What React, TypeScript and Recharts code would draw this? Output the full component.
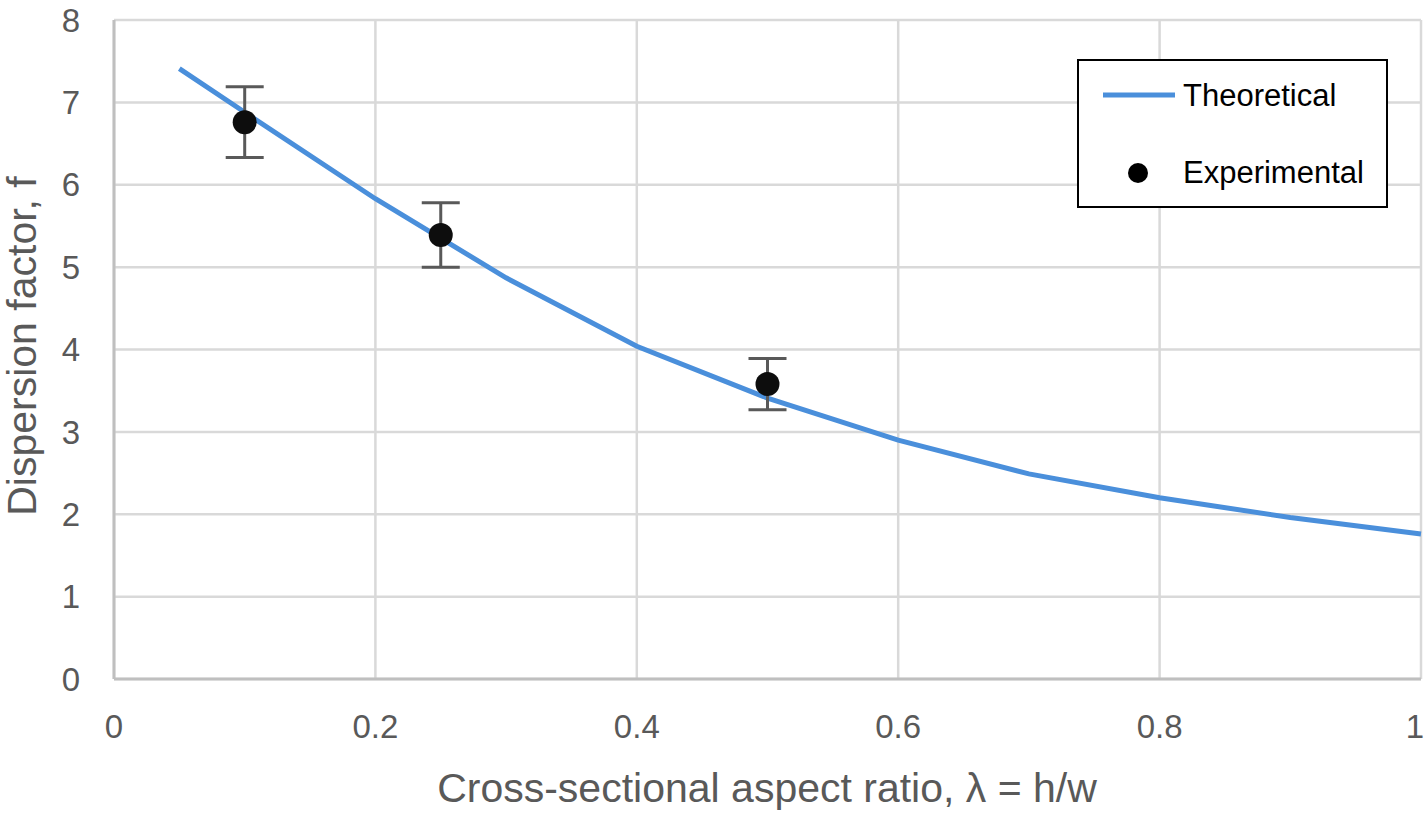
import {
  CartesianGrid,
  ComposedChart,
  ErrorBar,
  Label,
  Legend,
  Line,
  Scatter,
  XAxis,
  YAxis,
} from 'recharts'

const theoryLambda = [0.05, 0.1, 0.2, 0.3, 0.4, 0.5, 0.6, 0.7, 0.8, 0.9, 1.0]
const theoryF = [7.41, 6.88, 5.83, 4.87, 4.04, 3.41, 2.9, 2.49, 2.2, 1.96, 1.76]

const expLambda = [0.1, 0.25, 0.5]
const expF = [6.76, 5.39, 3.58]
const expErr = [0.43, 0.39, 0.31]

const xTicks = [0, 0.2, 0.4, 0.6, 0.8, 1]
const yTicks = [0, 1, 2, 3, 4, 5, 6, 7, 8]

const seriesNames = ['Theoretical', 'Experimental']

const font = '"Liberation Sans", Arial, sans-serif'
const lineColor = '#4a8fdb'
const gridColor = '#d9d9d9'
const axisColor = '#bfbfbf'
const textColor = '#595959'

const theoryData = theoryLambda.map((x, i) => ({ x, y: theoryF[i] }))
const expData = expLambda.map((x, i) => ({ x, y: expF[i], err: expErr[i] }))

// last x label would hang past the right edge, so pull it in like Excel does
function XTick(props: any) {
  const { x, y, payload } = props
  const isLast = payload.value === xTicks[xTicks.length - 1]
  return (
    <text
      x={isLast ? 1424 : x}
      y={y}
      dy="0.71em"
      textAnchor={isLast ? 'end' : 'middle'}
      fontSize={33}
      fill={textColor}
      fontFamily={font}
    >
      {payload.value}
    </text>
  )
}

function LegendBox() {
  return (
    <div
      style={{
        width: 311,
        height: 149,
        boxSizing: 'border-box',
        border: '2px solid #000',
        background: '#fff',
      }}
    >
      <svg width={307} height={145} style={{ display: 'block' }}>
        <line x1={24} x2={96} y1={34} y2={34} stroke={lineColor} strokeWidth={5} />
        <text x={104} y={45} fontSize={31} fill="#000" fontFamily={font}>
          {seriesNames[0]}
        </text>
        <circle cx={59} cy={112} r={10} fill="#000" />
        <text x={104} y={122} fontSize={31} fill="#000" fontFamily={font}>
          {seriesNames[1]}
        </text>
      </svg>
    </div>
  )
}

export default function App() {
  return (
    <div style={{ position: 'absolute', left: 0, top: 0, width: 1424, height: 816, background: '#fff' }}>
      <ComposedChart width={1424} height={816} margin={{ top: 20, right: 3, bottom: 0, left: 0 }}>
        <CartesianGrid stroke={gridColor} strokeWidth={2.5} />
        <XAxis
          type="number"
          dataKey="x"
          domain={[0, 1]}
          ticks={xTicks}
          interval={0}
          height={137}
          tickLine={false}
          tickSize={0}
          tickMargin={36}
          axisLine={{ stroke: axisColor, strokeWidth: 3 }}
          tick={<XTick />}
        >
          <Label
            content={() => (
              <text x={767} y={802} textAnchor="middle" fontSize={41} fill={textColor} fontFamily={font}>
                Cross-sectional aspect ratio, λ = h/w
              </text>
            )}
          />
        </XAxis>
        <YAxis
          type="number"
          domain={[0, 8]}
          ticks={yTicks}
          interval={0}
          width={114}
          tickLine={false}
          tickSize={0}
          tickMargin={34}
          axisLine={{ stroke: axisColor, strokeWidth: 3 }}
          tick={{ fontSize: 33, fill: textColor, fontFamily: font }}
        >
          <Label
            content={() => (
              <text
                x={36}
                y={346}
                transform="rotate(-90 36 346)"
                textAnchor="middle"
                fontSize={41}
                fill={textColor}
                fontFamily={font}
              >
                Dispersion factor, f
              </text>
            )}
          />
        </YAxis>
        <Legend
          layout="vertical"
          align="center"
          verticalAlign="middle"
          wrapperStyle={{ left: 1077, top: 59, width: 311, height: 149 }}
          content={() => <LegendBox />}
        />
        <Line
          data={theoryData}
          dataKey="y"
          name={seriesNames[0]}
          type="linear"
          stroke={lineColor}
          strokeWidth={5}
          dot={false}
          activeDot={false}
          isAnimationActive={false}
        />
        <Scatter
          data={expData}
          dataKey="y"
          name={seriesNames[1]}
          fill="#0d0d0d"
          isAnimationActive={false}
          shape={(p: any) => <circle cx={p.cx} cy={p.cy} r={12} fill="#0d0d0d" />}
        >
          <ErrorBar dataKey="err" direction="y" width={19} stroke={textColor} strokeWidth={3} />
        </Scatter>
      </ComposedChart>
    </div>
  )
}
